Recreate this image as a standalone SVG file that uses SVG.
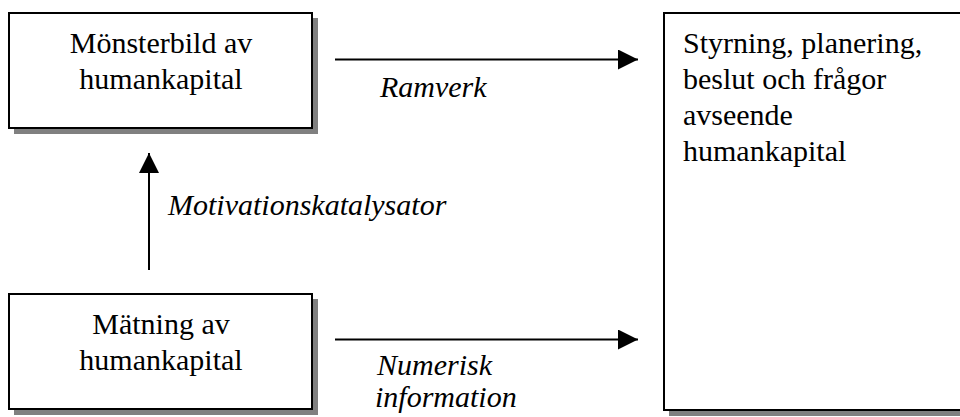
<svg xmlns="http://www.w3.org/2000/svg" width="960" height="417" viewBox="0 0 960 417">
  <style>
    .shadow { fill: #808080; }
    .box { fill: #ffffff; stroke: #000000; stroke-width: 2; }
    .txt { font-family: "Liberation Serif", "Times New Roman", serif; font-size: 30px; fill: #000000; }
    .mid { text-anchor: middle; }
    .lbl { font-family: "Liberation Serif", "Times New Roman", serif; font-size: 30px; font-style: italic; fill: #000000; }
    .conn { stroke: #000000; stroke-width: 2; fill: none; }
  </style>
  <defs>
    <marker id="arrow" viewBox="0 0 20 20" refX="20" refY="10" markerWidth="20" markerHeight="20" markerUnits="userSpaceOnUse" orient="auto">
      <path d="M0,0 L20,10 L0,20 Z" fill="#000000"/>
    </marker>
  </defs>

  <rect width="960" height="417" fill="#ffffff"/>

  <g id="node-monsterbild">
    <rect class="shadow" x="14" y="18" width="304" height="116"/>
    <rect class="box" x="9" y="13" width="303" height="115"/>
    <text class="txt mid" x="161" y="53">Mönsterbild av</text>
    <text class="txt mid" x="161" y="89">humankapital</text>
  </g>

  <g id="node-matning">
    <rect class="shadow" x="14" y="299" width="304" height="116"/>
    <rect class="box" x="9" y="294" width="303" height="115"/>
    <text class="txt mid" x="161" y="334">Mätning av</text>
    <text class="txt mid" x="161" y="370">humankapital</text>
  </g>

  <g id="node-styrning">
    <rect class="shadow" x="669" y="18" width="300" height="398"/>
    <rect class="box" x="664" y="13" width="310" height="397"/>
    <text class="txt" x="683" y="53">Styrning, planering,</text>
    <text class="txt" x="683" y="89">beslut och frågor</text>
    <text class="txt" x="683" y="125">avseende</text>
    <text class="txt" x="683" y="161">humankapital</text>
  </g>

  <g id="connectors">
    <line class="conn" x1="335" y1="59.5" x2="638" y2="59.5" marker-end="url(#arrow)"/>
    <text class="lbl" x="380" y="97">Ramverk</text>

    <line class="conn" x1="335" y1="339.5" x2="638" y2="339.5" marker-end="url(#arrow)"/>
    <text class="lbl" x="377" y="375">Numerisk</text>
    <text class="lbl" x="375" y="407">information</text>

    <line class="conn" x1="149" y1="270" x2="149" y2="153" marker-end="url(#arrow)"/>
    <text class="lbl" x="168" y="215">Motivationskatalysator</text>
  </g>
</svg>
